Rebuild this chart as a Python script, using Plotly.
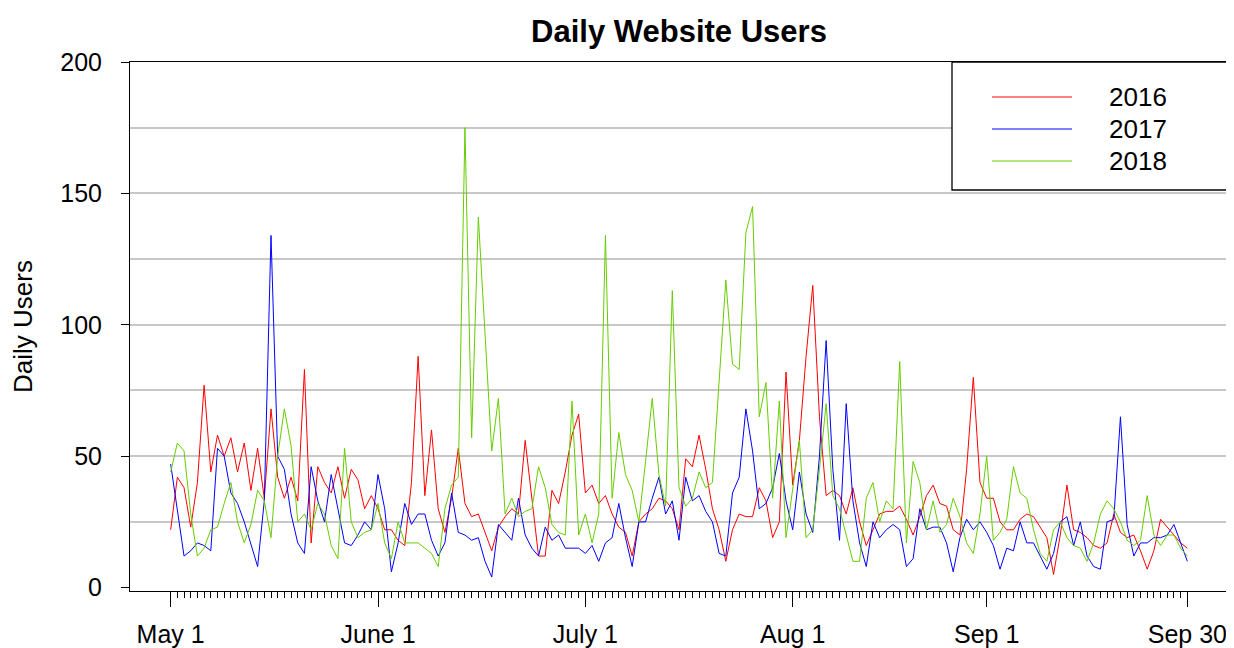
import plotly.graph_objects as go

# Daily users, May 1 .. Sep 30 (153 days)
users_2016 = [22, 42, 38, 23, 40, 77, 44, 58, 50, 57, 44, 55, 37, 53, 34, 68, 42, 34, 42, 33, 83, 17, 46, 40, 36, 46,
              34, 45, 41, 30, 35, 30, 22, 22, 18, 16, 40, 88, 35, 60, 30, 21, 34, 53, 32, 27, 28, 21, 14, 23, 27,
              30, 28, 56, 34, 12, 12, 37, 32, 44, 58, 66, 36, 39, 32, 35, 28, 23, 21, 12, 25, 28, 30, 34, 33, 30, 22,
              49, 46, 58, 45, 30, 22, 10, 22, 28, 27, 27, 38, 33, 19, 25, 82, 39, 56, 88, 115, 65, 35, 37, 35, 28,
              38, 25, 16, 22, 28, 29, 29, 31, 26, 20, 27, 35, 39, 32, 31, 22, 20, 45, 80, 40, 34, 34, 25, 22, 22, 26,
              28, 27, 23, 19, 5, 20, 39, 22, 21, 19, 16, 15, 17, 28, 21, 19, 20, 14, 7, 14, 26, 23, 20, 17, 15]

users_2017 = [47, 30, 12, 14, 17, 16, 14, 53, 50, 36, 32, 25, 16, 8, 33, 134, 50, 45, 28, 17, 13, 46, 33, 25, 43, 30,
              17, 16, 20, 25, 22, 43, 30, 6, 17, 32, 24, 28, 28, 18, 12, 17, 36, 21, 20, 18, 19, 10, 4, 24, 21,
              18, 34, 20, 15, 12, 23, 18, 20, 15, 15, 15, 13, 16, 10, 17, 19, 32, 19, 8, 25, 25, 34, 42, 28, 33, 18,
              42, 33, 35, 29, 25, 13, 12, 36, 42, 68, 52, 30, 32, 38, 51, 33, 22, 44, 28, 21, 50, 94, 45, 18, 70,
              33, 17, 8, 25, 19, 22, 24, 22, 8, 11, 30, 22, 23, 23, 17, 6, 19, 26, 22, 25, 21, 16, 7, 15, 14, 25,
              17, 17, 12, 7, 13, 25, 27, 16, 25, 12, 8, 7, 25, 26, 65, 24, 12, 17, 17, 19, 19, 20, 24, 17, 10]

users_2018 = [44, 55, 52, 28, 12, 15, 22, 23, 32, 40, 25, 17, 24, 37, 33, 19, 50, 68, 54, 25, 28, 22, 32, 28, 16, 11,
              53, 25, 19, 21, 22, 32, 17, 11, 25, 17, 17, 17, 15, 13, 8, 30, 39, 42, 175, 57, 141, 95, 52, 72, 28,
              34, 27, 29, 30, 46, 38, 24, 21, 20, 71, 20, 28, 17, 28, 134, 34, 59, 43, 37, 25, 48, 72, 43, 31, 113, 38,
              31, 34, 44, 38, 40, 80, 117, 85, 83, 135, 145, 65, 78, 34, 71, 19, 38, 56, 19, 22, 45, 70, 35, 30, 20,
              10, 10, 34, 40, 25, 33, 30, 86, 17, 48, 40, 22, 33, 21, 24, 34, 27, 17, 13, 28, 50, 18, 21, 26, 46, 36,
              34, 22, 13, 10, 22, 25, 19, 16, 15, 10, 17, 28, 33, 30, 25, 18, 16, 18, 35, 20, 16, 20, 20, 15, 12]

series_names = ["2016", "2017", "2018"]
tick_days = [0, 31, 62, 93, 122, 152]
tick_labels = ["May 1", "June 1", "July 1", "Aug 1", "Sep 1", "Sep 30"]
y_tick_vals = [0, 50, 100, 150, 200]
y_minor_grid = [25, 75, 125, 175]

days = list(range(len(users_2016)))
colors = ["#FF0000", "#0000FF", "#66CD00"]
FONT = "Liberation Sans, Arial, sans-serif"

# the page body adds an 8px offset; the figure is sized to fill the rest of the window
OFF = 8
W, H = 1234 - OFF, 648 - OFF
ML, MR, MT, MB = 130 - OFF, 6, 62 - OFF, 57
PW, PH = W - ML - MR, H - MT - MB


def px_x(px):
    return (px - OFF - ML) / PW


def px_y(py):
    return (H - MB - (py - OFF)) / PH


fig = go.Figure()
for name, vals, col in zip(series_names, [users_2016, users_2017, users_2018], colors):
    fig.add_trace(go.Scatter(x=days, y=vals, mode="lines", name=name,
                             line=dict(color=col, width=1), showlegend=False))

# R-style legend box drawn in paper coordinates
shapes = [dict(type="rect", xref="paper", yref="paper",
               x0=px_x(952), x1=px_x(1228), y0=px_y(190), y1=px_y(62),
               line=dict(color="black", width=1.3), fillcolor="white", layer="above")]
annotations = []
for i, (name, col) in enumerate(zip(series_names, colors)):
    yy = px_y(97 + 32 * i)
    shapes.append(dict(type="line", xref="paper", yref="paper",
                       x0=px_x(992), x1=px_x(1072), y0=yy, y1=yy,
                       line=dict(color=col, width=1), layer="above"))
    annotations.append(dict(text=name, xref="paper", yref="paper", x=px_x(1107), y=yy,
                            xanchor="left", yanchor="middle", showarrow=False,
                            font=dict(family=FONT, size=26, color="black")))

n = len(days) - 1
pad = 0.04 * n

fig.update_layout(
    width=W, height=H,
    margin=dict(l=ML, r=MR, t=MT, b=MB, autoexpand=False),
    paper_bgcolor="white", plot_bgcolor="white",
    font=dict(family=FONT, color="black", size=25),
    title=dict(text="<b>Daily Website Users</b>", x=(ML + PW / 2) / W, xref="container", xanchor="center",
               y=1 - (31 - OFF) / H, yref="container", yanchor="middle", automargin=False,
               font=dict(family=FONT, size=31, color="black")),
    xaxis=dict(range=[-pad, n + pad], tickmode="array", tickvals=tick_days, ticktext=tick_labels,
               ticks="outside", ticklen=15, tickwidth=1, tickcolor="black",
               showline=True, linecolor="black", linewidth=1, mirror=True,
               showgrid=False, zeroline=False, ticklabelstandoff=6, automargin=False,
               tickfont=dict(size=25),
               minor=dict(tickmode="array", tickvals=days, ticks="outside", ticklen=6,
                          tickwidth=1, tickcolor="black", showgrid=False)),
    yaxis=dict(range=[-1.3, 200], tickmode="array", tickvals=y_tick_vals,
               ticks="outside", ticklen=8, tickwidth=1, tickcolor="black",
               showline=True, linecolor="black", linewidth=1, mirror=True,
               showgrid=True, gridcolor="#c8c8c8", gridwidth=1.5,
               zeroline=True, zerolinecolor="white", zerolinewidth=2,
               ticklabelstandoff=14, tickfont=dict(size=25), automargin=False,
               title=dict(text="Daily Users", font=dict(size=26), standoff=26),
               minor=dict(tickmode="array", tickvals=y_minor_grid, ticks="",
                          showgrid=True, gridcolor="#c8c8c8", gridwidth=1.5)),
    shapes=shapes,
    annotations=annotations,
    showlegend=False,
)

fig.write_html("out.html")
